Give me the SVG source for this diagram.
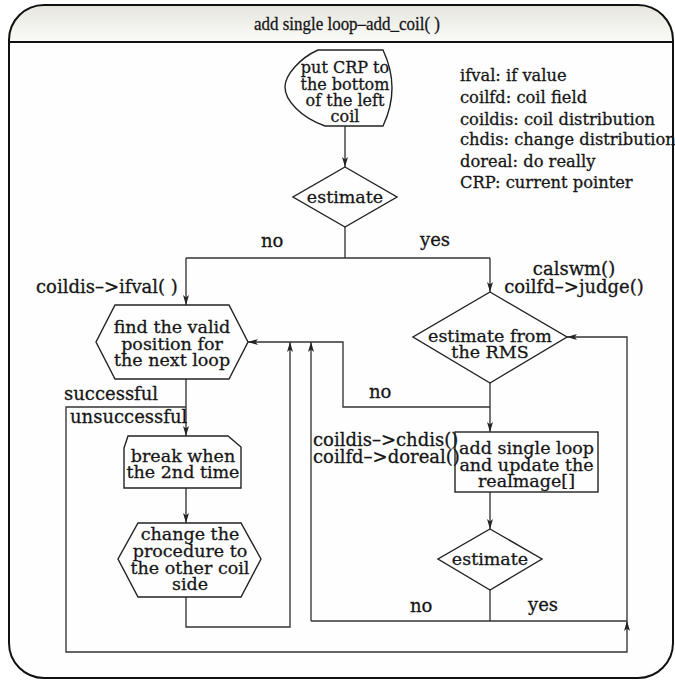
<svg xmlns="http://www.w3.org/2000/svg" width="675" height="680" viewBox="0 0 675 680">
<defs>
<linearGradient id="hdr" x1="0" y1="0" x2="0" y2="1">
<stop offset="0" stop-color="#e6e6de"/>
<stop offset="1" stop-color="#fbfbf9"/>
</linearGradient>
<marker id="arr" viewBox="0 0 10 6" refX="10" refY="3" markerWidth="10" markerHeight="6" markerUnits="userSpaceOnUse" orient="auto">
<path d="M0,0 L10,3 L0,6 L2.5,3 Z" fill="#222"/>
</marker>
<style>
text{font-family:"DejaVu Serif","Liberation Serif",serif;fill:#161616;stroke:#161616;stroke-width:0.3}
.n{font-size:17.5px;text-anchor:middle}
.s{font-size:16px;text-anchor:middle}
.l{font-size:18px}
.g{font-size:16.3px}
.t{font-family:"Liberation Serif","DejaVu Serif",serif;font-size:19px;text-anchor:middle}
.shape{fill:none;stroke:#222;stroke-width:1.4}
.c{fill:none;stroke:#333;stroke-width:1.35}
.a{marker-end:url(#arr)}
</style>
</defs>
<rect width="675" height="680" fill="#ffffff"/>
<g id="frame">
<path d="M9,42 V40 A35,35 0 0 1 44,5 H638 A35,35 0 0 1 673,40 V42 Z" fill="url(#hdr)"/>
<path d="M9,42 H673 V643 A35,35 0 0 1 638,678 H44 A35,35 0 0 1 9,643 Z" fill="#fefefe"/>
<path d="M9,40 A35,35 0 0 1 44,5 H638 A35,35 0 0 1 673,40 V643 A35,35 0 0 1 638,678 H44 A35,35 0 0 1 9,643 Z" fill="none" stroke="#111" stroke-width="2"/>
<line x1="9" y1="42" x2="673" y2="42" stroke="#111" stroke-width="2"/>
<text class="t" x="347" y="30" textLength="186" lengthAdjust="spacingAndGlyphs">add single loop–add_coil( )</text>
</g>
<g id="legend">
<text class="g" x="460" y="81">ifval: if value</text>
<text class="g" x="460" y="103">coilfd: coil field</text>
<text class="g" x="460" y="124.5">coildis: coil distribution</text>
<text class="g" x="460" y="145">chdis: change distribution</text>
<text class="g" x="460" y="167">doreal: do really</text>
<text class="g" x="460" y="188">CRP: current pointer</text>
</g>
<g id="connectors">
<line class="c a" x1="345" y1="126" x2="345" y2="167"/>
<polyline class="c" points="345,227 345,258"/>
<line class="c" x1="186" y1="258" x2="490" y2="258"/>
<line class="c a" x1="186" y1="258" x2="186" y2="305"/>
<line class="c a" x1="490" y1="258" x2="490" y2="292"/>
<line class="c a" x1="186" y1="379" x2="186" y2="436"/>
<polyline class="c a" points="186,407 66,407 66,652 627,652 627,621"/>
<line class="c a" x1="186" y1="488" x2="186" y2="523"/>
<polyline class="c a" points="186,597 186,627 290,627 290,342"/>
<line class="c a" x1="490" y1="383" x2="490" y2="432"/>
<polyline class="c a" points="490,407 343,407 343,342 248,342"/>
<line class="c a" x1="490" y1="492" x2="490" y2="529"/>
<line class="c" x1="490" y1="590" x2="490" y2="621"/>
<line class="c" x1="311" y1="621" x2="627" y2="621"/>
<line class="c a" x1="311" y1="621" x2="311" y2="342"/>
<polyline class="c a" points="627,621 627,337 567,337"/>
<text class="l" x="261" y="247">no</text>
<text class="l" x="420" y="246">yes</text>
<text class="l" x="36" y="293">coildis–&gt;ifval( )</text>
<text class="l" x="574" y="275" text-anchor="middle">calswm()</text>
<text class="l" x="574" y="293" text-anchor="middle">coilfd–&gt;judge()</text>
<text class="l" x="64" y="400">successful</text>
<text class="l" x="70" y="423">unsuccessful</text>
<text class="l" x="369" y="398">no</text>
<text class="l" x="313" y="446">coildis–&gt;chdis()</text>
<text class="l" x="313" y="463">coilfd–&gt;doreal()</text>
<text class="l" x="410" y="612">no</text>
<text class="l" x="528" y="611">yes</text>
</g>
<g id="start">
<path class="shape" d="M318,50 H383 Q401,88 383,126 H325 C300,117 285,100 285,87 C285,75 300,58 318,50 Z"/>
<text class="s" x="345" y="73">put CRP to</text>
<text class="s" x="345" y="89.5">the bottom</text>
<text class="s" x="345" y="106">of the left</text>
<text class="s" x="345" y="122">coil</text>
</g>
<g id="estimate1">
<polygon class="shape" points="345,167 397,197 345,227 293,197"/>
<text class="n" x="345" y="203">estimate</text>
</g>
<g id="findpos">
<polygon class="shape" points="115,305 229,305 248,342 229,379 115,379 96,342"/>
<text class="n" x="172" y="333">find the valid</text>
<text class="n" x="172" y="350">position for</text>
<text class="n" x="172" y="366">the next loop</text>
</g>
<g id="breakbox">
<polygon class="shape" points="128,436 228,436 241,447 241,488 124,488 124,448"/>
<text class="n" x="183" y="462">break when</text>
<text class="n" x="183" y="478">the 2nd time</text>
</g>
<g id="change">
<polygon class="shape" points="138,523 241,523 261,559 241,597 138,597 118,559"/>
<text class="n" x="190" y="540">change the</text>
<text class="n" x="190" y="557">procedure to</text>
<text class="n" x="190" y="574">the other coil</text>
<text class="n" x="190" y="590">side</text>
</g>
<g id="rms">
<polygon class="shape" points="490,292 567,337 490,383 413,337"/>
<text class="n" x="490" y="342">estimate from</text>
<text class="n" x="490" y="358">the RMS</text>
</g>
<g id="addloop">
<rect class="shape" x="455" y="432" width="143" height="60"/>
<text class="n" x="526.5" y="454">add single loop</text>
<text class="n" x="526.5" y="471">and update the</text>
<text class="n" x="526.5" y="487">realmage[]</text>
</g>
<g id="estimate2">
<polygon class="shape" points="490,529 542,559 490,590 438,559"/>
<text class="n" x="490" y="565">estimate</text>
</g>
</svg>
